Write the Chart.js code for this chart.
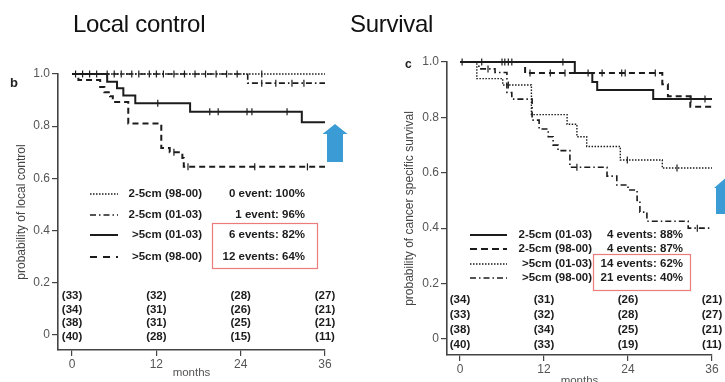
<!DOCTYPE html>
<html><head><meta charset="utf-8">
<script src="https://cdn.jsdelivr.net/npm/chart.js@4.4.1/dist/chart.umd.min.js"></script>
<style>
html,body{margin:0;padding:0;overflow:hidden;background:#fff;width:725px;height:382px;}
#wrap{position:relative;width:725px;height:382px;overflow:hidden;}
canvas{position:absolute;top:0;}
#c1{left:0;} #c2{left:362px;}
.title{position:absolute;top:11.5px;font-family:"Liberation Sans",Arial,sans-serif;font-size:24px;line-height:24px;color:#111;letter-spacing:-0.3px;white-space:nowrap;}
.panel{position:absolute;font-family:"Liberation Sans",Arial,sans-serif;font-weight:bold;color:#222;line-height:1;white-space:nowrap;}
</style></head>
<body><div id="wrap">
<canvas id="c1" width="362" height="382"></canvas>
<canvas id="c2" width="363" height="392"></canvas>
<div class="title" style="left:73px;">Local control</div>
<div class="title" style="left:350px;">Survival</div>
<div class="panel" style="left:10px;top:76px;font-size:13px;">b</div>
<div class="panel" style="left:405px;top:58px;font-size:12px;">c</div>
</div>
<script>
// ---------------- DATA ----------------
const monthTicks = [0, 12, 24, 36];
const probTicks = [0, 0.2, 0.4, 0.6, 0.8, 1.0];

// Local control (panel b) — [month, probability] after each step
const lcNames = ['2-5cm (98-00)', '2-5cm (01-03)', '>5cm (01-03)', '>5cm (98-00)'];
const lcEvents = ['0 event: 100%', '1 event: 96%', '6 events: 82%', '12 events: 64%'];
const lcSmall9800 = [[0, 1], [36, 1]];
const lcSmall0103 = [[0, 1], [25, 0.965], [36, 0.965]];
const lcLarge0103 = [[0, 1], [5, 0.97], [6.4, 0.945], [7.3, 0.918], [9, 0.888], [16.8, 0.855], [32.7, 0.815], [36, 0.815]];
const lcLarge9800 = [[0, 1], [0.9, 0.977], [4, 0.95], [4.6, 0.93], [5.4, 0.915], [5.8, 0.893], [8, 0.81], [12.7, 0.716], [13.9, 0.70], [15.7, 0.678], [15.9, 0.644], [36, 0.644]];
const lcCens9800 = [0.5, 1.5, 2.5, 3.5, 5, 6, 7, 8.5, 9.5, 11, 12, 13, 14.5, 16, 17.5, 19, 20.5, 22, 23.5, 27];
const lcCens0103s = [27, 29, 31.3, 33];
const lcCens0103l = [12.2, 19.6, 20.8, 24.9, 25.6, 30.6];
const lcCens9800l = [14.5, 16.5, 26, 33.5];
const lcRisk = [[33, 34, 38, 40], [32, 31, 31, 28], [28, 26, 25, 15], [27, 21, 21, 11]];

// Survival (panel c)
const svNames = ['2-5cm (01-03)', '2-5cm (98-00)', '>5cm (01-03)', '>5cm (98-00)'];
const svEvents = ['4 events: 88%', '4 events: 87%', '14 events: 62%', '21 events: 40%'];
const svSmall0103 = [[0, 1], [16.4, 0.96], [18.9, 0.928], [19.6, 0.899], [27.6, 0.866], [36, 0.866]];
const svSmall9800 = [[0, 1], [9.3, 0.96], [28.9, 0.92], [29.7, 0.876], [32.9, 0.838], [36, 0.838]];
const svLarge0103 = [[0, 1], [2.4, 0.94], [6.1, 0.917], [10.2, 0.81], [15.3, 0.775], [16.7, 0.73], [18.1, 0.695], [22.9, 0.646], [28.9, 0.617], [36, 0.617]];
const svLarge9800 = [[0, 1], [2.7, 0.975], [5, 0.962], [6.7, 0.89], [7.4, 0.866], [10.3, 0.79], [11.3, 0.758], [12.6, 0.73], [13.3, 0.70], [14, 0.68], [15.7, 0.62], [21, 0.588], [22.4, 0.556], [24, 0.538], [25.3, 0.50], [25.7, 0.458], [26.7, 0.425], [32.6, 0.40], [36, 0.40]];
const svCens0103s = [0.3, 3.1, 6, 6.4, 6.9, 7.4, 14.7, 33, 35];
const svCens9800s = [10, 12.9, 15, 18.3, 20.3, 23.1, 23.6, 27.9];
const svCens0103l = [6.9, 23.9, 31];
const svCens9800l = [4, 16.7, 33.9];
const svRisk = [[34, 33, 38, 40], [31, 32, 34, 33], [26, 28, 25, 19], [21, 27, 21, 11]];

// ---------------- STYLES ----------------
const FONT = '"Liberation Sans", Arial, sans-serif';
const INK = '#1c1c1c';
const STYLE = {
  dotted:  {borderDash: [1.5, 1.5], borderWidth: 1.4},
  dashdot: {borderDash: [6, 3, 1.5, 3], borderWidth: 1.6},
  solid:   {borderDash: [], borderWidth: 2},
  dashed:  {borderDash: [6, 4], borderWidth: 2}
};

function stepValue(steps, t) {
  let v = steps[0][1];
  for (const [m, p] of steps) { if (m <= t) v = p; }
  return v;
}
function lineDs(steps, st) {
  return {type: 'line', data: steps.map(([x, y]) => ({x, y})), stepped: 'before',
    borderColor: INK, borderDash: st.borderDash, borderWidth: st.borderWidth,
    pointRadius: 0, fill: false, clip: false, tension: 0};
}
function censDs(steps, times) {
  return {type: 'scatter', data: times.map(t => ({x: t, y: stepValue(steps, t)})),
    showLine: false, pointStyle: 'line', rotation: 90, pointRadius: 3.5,
    borderColor: INK, borderWidth: 1.2, clip: false};
}

const kmPlugin = {
  id: 'km',
  afterDraw(chart, args, o) {
    const {ctx} = chart;
    const x = chart.scales.x;
    ctx.save();
    ctx.font = 'bold 11.5px ' + FONT;
    ctx.fillStyle = INK;
    ctx.textBaseline = 'middle';
    // numbers at risk
    ctx.textAlign = 'center';
    o.risk.forEach((col, i) => {
      const px = x.getPixelForValue(monthTicks[i]);
      col.forEach((n, r) => ctx.fillText('(' + n + ')', px, o.riskY[r]));
    });
    // legend
    o.names.forEach((name, r) => {
      const st = o.styles[r];
      const yy = o.legY[r];
      ctx.beginPath();
      ctx.setLineDash(st.legendDash || st.borderDash);
      ctx.lineWidth = st.borderWidth;
      ctx.strokeStyle = INK;
      ctx.moveTo(o.sampleX[0], yy); ctx.lineTo(o.sampleX[1], yy);
      ctx.stroke();
      ctx.setLineDash([]);
      ctx.textAlign = 'right';
      ctx.fillText(name, o.labelRight, yy);
      ctx.fillText(o.events[r], o.eventRight, yy);
    });
    // red box
    ctx.strokeStyle = '#ec7b7b';
    ctx.lineWidth = 1.2;
    ctx.strokeRect(o.box[0], o.box[1], o.box[2], o.box[3]);
    // blue arrow
    const a = o.arrow;
    ctx.fillStyle = '#3a9bd5';
    ctx.beginPath();
    ctx.moveTo(a.cx, a.tip);
    ctx.lineTo(a.cx + a.hw, a.tip + a.hh);
    ctx.lineTo(a.cx + a.sw, a.tip + a.hh);
    ctx.lineTo(a.cx + a.sw, a.bottom);
    ctx.lineTo(a.cx - a.sw, a.bottom);
    ctx.lineTo(a.cx - a.sw, a.tip + a.hh);
    ctx.lineTo(a.cx - a.hw, a.tip + a.hh);
    ctx.closePath();
    ctx.fill();
    ctx.restore();
  }
};

function makeChart(id, cfg) {
  const tickFont = {family: FONT, size: 12};
  return new Chart(document.getElementById(id), {
    data: {datasets: cfg.datasets},
    options: {
      responsive: false, animation: false, devicePixelRatio: 1,
      layout: {padding: cfg.padding},
      plugins: {legend: {display: false}, tooltip: {enabled: false}, km: cfg.km},
      scales: {
        x: {
          type: 'linear', min: cfg.xMin, max: 36,
          afterBuildTicks: s => { s.ticks = monthTicks.map(v => ({value: v})); },
          afterFit: s => { s.height = cfg.xHeight; },
          ticks: {font: tickFont, color: '#555', padding: 1, maxRotation: 0, callback: v => String(v)},
          grid: {display: true, drawOnChartArea: false, drawTicks: true, tickLength: 6, color: '#444', lineWidth: 1.2},
          border: {display: true, color: '#444', width: 1.6},
          title: {display: true, text: 'months', color: '#555', font: {family: FONT, size: 11.5}, padding: {top: 0, bottom: cfg.xTitlePad}}
        },
        y: {
          type: 'linear', min: -0.058, max: 1.0,
          afterBuildTicks: s => { s.ticks = probTicks.map(v => ({value: v})); },
          afterFit: s => { s.width = cfg.yWidth; },
          ticks: {font: tickFont, color: '#555', padding: 2, callback: v => (v === 0 ? '0' : v.toFixed(1))},
          grid: {display: true, drawOnChartArea: false, drawTicks: true, tickLength: 6, color: '#444', lineWidth: 1.2},
          border: {display: true, color: '#444', width: 1.6},
          title: {display: true, text: cfg.yTitle, color: '#444', font: {family: FONT, size: 12}, padding: {top: cfg.yTitlePad, bottom: 0}}
        }
      }
    },
    plugins: [kmPlugin]
  });
}

// Panel b
const lcStyles = [STYLE.dotted, STYLE.dashdot, STYLE.solid, Object.assign({legendDash: [7, 6]}, STYLE.dashed)];
const lcSteps = [lcSmall9800, lcSmall0103, lcLarge0103, lcLarge9800];
const lcCens = [lcCens9800, lcCens0103s, lcCens0103l, lcCens9800l];
makeChart('c1', {
  datasets: lcSteps.map((s, i) => lineDs(s, lcStyles[i])).concat(lcSteps.map((s, i) => censDs(s, lcCens[i]))),
  padding: {top: 74, right: 37, left: 0, bottom: 0},
  xMin: -2.0, xHeight: 32, xTitlePad: 2, yWidth: 58, yTitlePad: 14,
  yTitle: 'probability of local control',
  km: {risk: lcRisk, riskY: [296, 310, 323, 337], names: lcNames, events: lcEvents, styles: lcStyles,
       legY: [194, 215, 235, 257], sampleX: [90, 118], labelRight: 202, eventRight: 305,
       box: [212.5, 223.5, 105, 45], arrow: {cx: 335, tip: 124, hw: 12.5, hh: 10, sw: 8, bottom: 162}}
});

// Panel c
const svStyles = [STYLE.solid, Object.assign({legendDash: [7, 4]}, STYLE.dashed), STYLE.dotted, STYLE.dashdot];
const svSteps = [svSmall0103, svSmall9800, svLarge0103, svLarge9800];
const svCens = [svCens0103s, svCens9800s, svCens0103l, svCens9800l];
makeChart('c2', {
  datasets: svSteps.map((s, i) => lineDs(s, svStyles[i])).concat(svSteps.map((s, i) => censDs(s, svCens[i]))),
  padding: {top: 62, right: 13, left: 0, bottom: 0},
  xMin: -1.86, xHeight: 37, xTitlePad: 4, yWidth: 85, yTitlePad: 40,
  yTitle: 'probability of cancer specific survival',
  km: {risk: svRisk, riskY: [300, 315, 330, 345], names: svNames, events: svEvents, styles: svStyles,
       legY: [235, 249, 264, 278], sampleX: [108, 145], labelRight: 230, eventRight: 321,
       box: [231.5, 254.5, 97, 36], arrow: {cx: 366, tip: 176, hw: 14, hh: 12, sw: 12, bottom: 214}}
});
</script>
</body></html>
